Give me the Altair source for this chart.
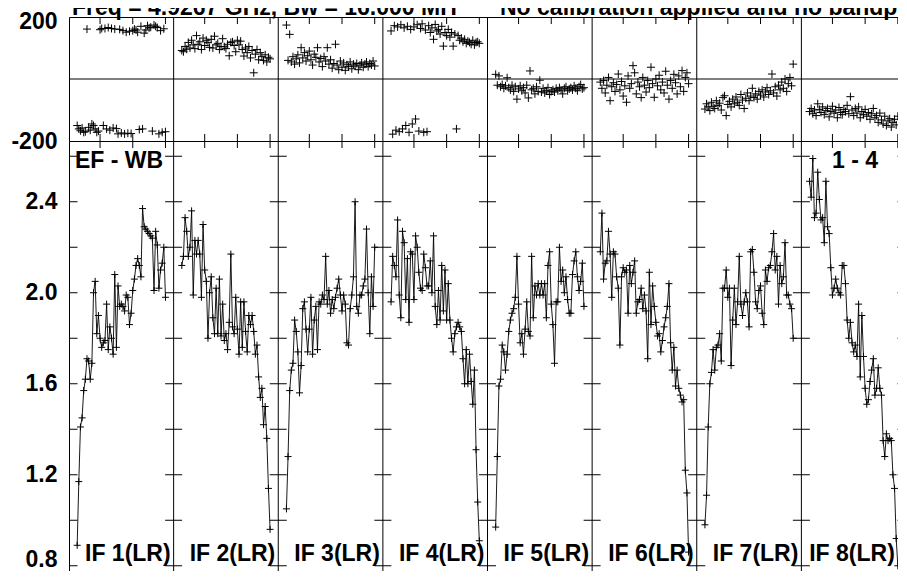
import altair as alt
import pandas as pd

# ---------------- data ----------------
NCHAN = 64                      # channels per IF
CHANNELS = list(range(6, 61))   # plotted channels in every IF
IF_LABELS = ["IF 1(LR)", "IF 2(LR)", "IF 3(LR)", "IF 4(LR)",
             "IF 5(LR)", "IF 6(LR)", "IF 7(LR)", "IF 8(LR)"]

AMP_IF1 = [0.89, 1.17, 1.41, 1.45, 1.57, 1.62, 1.71, 1.70, 1.62, 1.69,
           2.00, 2.05, 1.82, 1.90, 1.80, 1.76, 1.78, 1.79, 1.95, 1.75,
           1.85, 1.80, 1.73, 2.08, 1.76, 2.03, 1.94, 1.95, 1.94, 1.92,
           1.99, 1.98, 1.86, 1.91, 2.01, 2.06, 2.12, 2.15, 2.12, 2.07,
           2.37, 2.29, 2.28, 2.27, 2.26, 2.25, 2.24, 2.01, 2.27, 2.21,
           2.02, 2.10, 2.13, 2.20, 1.98]
AMP_IF2 = [2.12, 2.16, 2.33, 2.27, 2.16, 2.20, 2.36, 1.99, 2.23, 2.17,
           2.23, 2.17, 1.98, 2.30, 2.10, 2.05, 1.80, 2.00, 2.07, 1.89,
           1.82, 2.02, 1.82, 2.06, 1.81, 1.95, 1.79, 1.82, 1.75, 1.87,
           2.17, 1.85, 1.82, 1.98, 1.84, 1.73, 1.96, 1.76, 1.96, 1.83,
           1.74, 1.90, 1.86, 1.90, 1.83, 1.73, 1.77, 1.63, 1.54, 1.58,
           1.42, 1.50, 1.36, 1.14, 0.96]
AMP_IF3 = [1.05, 1.28, 1.57, 1.66, 1.69, 1.88, 1.83, 1.74, 1.56, 1.68,
           1.93, 1.96, 1.84, 1.74, 1.84, 1.98, 1.73, 1.88, 1.94, 1.75,
           1.96, 1.95, 1.99, 1.97, 2.16, 1.95, 2.01, 1.91, 1.97, 1.93,
           1.98, 2.02, 2.06, 1.99, 1.92, 1.99, 1.95, 1.78, 1.77, 1.93,
           1.99, 2.07, 2.40, 1.94, 1.91, 1.99, 1.99, 2.03, 2.06, 2.28,
           2.00, 1.82, 2.07, 1.94, 2.20]
AMP_IF4 = [1.96, 2.16, 2.12, 2.07, 2.32, 1.99, 1.89, 2.27, 2.22, 1.97,
           2.15, 1.87, 2.18, 2.17, 1.97, 2.25, 2.20, 2.09, 2.02, 2.01,
           2.17, 2.11, 2.03, 2.03, 2.14, 2.00, 2.25, 1.94, 1.86, 2.01,
           1.88, 2.12, 1.92, 2.10, 1.88, 2.04, 1.88, 1.80, 1.74, 1.82,
           1.85, 1.87, 1.85, 1.83, 1.71, 1.60, 1.75, 1.60, 1.73, 1.61,
           1.51, 1.66, 1.31, 1.08, 0.91]
AMP_IF5 = [0.97, 1.28, 1.59, 1.62, 1.77, 1.74, 1.66, 1.73, 1.83, 1.88,
           1.91, 1.93, 1.98, 2.16, 1.95, 1.78, 1.82, 1.73, 1.84, 1.96,
           1.83, 1.81, 2.16, 1.89, 2.03, 1.99, 2.04, 1.99, 2.04, 1.99,
           2.04, 1.89, 2.12, 2.18, 1.95, 1.86, 1.69, 1.96, 1.96, 2.20,
           2.05, 2.10, 2.00, 2.07, 1.97, 1.91, 1.91, 2.08, 2.14, 2.18,
           2.07, 2.01, 2.05, 2.13, 1.94]
AMP_IF6 = [2.18, 2.35, 2.06, 2.13, 2.14, 2.27, 2.17, 1.98, 2.18, 2.17,
           2.07, 2.02, 1.77, 2.07, 2.11, 2.09, 2.10, 1.91, 2.12, 2.04,
           2.09, 2.14, 1.91, 1.96, 1.97, 2.02, 1.93, 1.99, 1.92, 1.71,
           2.09, 1.86, 2.03, 1.94, 1.87, 1.81, 1.82, 1.74, 1.79, 1.85,
           1.89, 1.94, 2.04, 1.78, 1.66, 1.76, 1.59, 1.66, 1.58, 1.55,
           1.52, 1.53, 1.22, 1.12, 0.86]
AMP_IF7 = [0.98, 1.11, 1.41, 1.60, 1.65, 1.75, 1.66, 1.76, 1.77, 1.82,
           1.70, 2.02, 2.02, 2.10, 1.98, 2.02, 1.68, 1.88, 2.02, 1.86,
           1.96, 2.16, 1.95, 1.90, 1.96, 2.00, 1.96, 1.85, 2.18, 2.19,
           2.09, 1.96, 1.93, 2.01, 2.03, 1.91, 1.86, 2.10, 2.05, 2.11,
           2.12, 2.18, 2.26, 2.10, 2.16, 1.95, 2.12, 2.04, 2.07, 2.22,
           1.99, 1.99, 1.95, 1.93, 1.80]
AMP_IF8 = [2.49, 2.42, 2.59, 2.33, 2.35, 2.53, 2.41, 2.32, 2.33, 2.22,
           2.49, 2.29, 2.26, 2.11, 1.99, 2.02, 2.06, 2.02, 2.00, 1.99,
           2.12, 2.12, 2.04, 1.88, 1.80, 1.87, 1.78, 1.74, 1.77, 1.72,
           1.95, 1.63, 1.90, 1.72, 1.58, 1.51, 1.53, 1.61, 1.66, 1.71,
           1.55, 1.58, 1.67, 1.58, 1.55, 1.35, 1.28, 1.38, 1.35, 1.36,
           1.35, 1.20, 1.14, 0.92, 0.80]

PH_IF1 = [-150, -161, -167, -158, -172, -170, 161, -156, -165, -145,
          -150, -161, -172, -168, 159, 163, -150, 163, -161, 166,
          -165, 163, -158, 161, -160, -177, 160, -174, 156, -177,
          151, -175, 154, -176, 156, 161, 158, 151, -163, 170,
          -161, 148, 158, 172, 165, 167, -168, 174, 170, 166,
          -177, 156, -172, 162, -170]
PH_IF2 = [92, 88, 105, 96, 118, 100, 125, 110, 98, 140,
          112, 120, 95, 132, 108, 125, 118, 102, 128, 100,
          138, 110, 115, 95, 105, 130, 104, 98, 112, 75,
          118, 120, 108, 88, 125, 110, 122, 95, 74, 100,
          85, 105, 68, 92, 20, 80, 95, 62, 85, 72,
          60, 78, 55, 70, 65]
PH_IF3 = [174, 60, 144, 55, 72, 48, 65, 78, 52, 101,
          68, 85, 58, 75, 90, 62, 45, 80, 70, 101,
          55, 66, 40, 72, 58, 101, 48, 62, 35, 50,
          112, 45, 30, 58, 38, 52, 28, 46, 40, 55,
          33, 48, 42, 50, 30, 45, 52, 38, 48, 55,
          40, 50, 45, 58, 42]
PH_IF4 = [155, -178, 172, -165, 168, -170, 175, -161, 165, -150,
          170, -172, 160, -145, 168, -129, 175, -168, 163, 178,
          -172, 158, -170, 172, 150, 165, 128, 176, 155, 160,
          145, 170, 106, 150, 140, 160, 135, 150, 106, 145,
          -161, 140, 125, 132, 120, 128, 115, 122, 118, 112,
          125, 110, 118, 120, 115]
PH_IF5 = [15, -20, 10, -25, -18, -30, -22, 4, -28, -35,
          -20, -40, -25, -65, -32, -22, -38, -28, -45, -20,
          -61, 26, -35, -30, -48, -25, -40, -4, -42, -30,
          -45, -38, -28, -50, -40, -35, -42, -30, -38, -28,
          -35, -48, -30, -25, -38, -32, -28, -35, -22, -30,
          -38, -25, -18, -32, -28]
PH_IF6 = [-10, -30, -5, -45, -20, 5, -70, -25, -12, -40,
          -18, 16, -35, -8, -55, -22, -75, 10, -30, -15,
          43, 20, -48, -10, -25, -60, 5, -20, -42, -5,
          -28, 38, -15, -59, 0, -22, 12, -35, -10, -45,
          25, -20, -65, -5, -30, 15, -12, -48, 10, -25,
          27, -40, 5, 20, -15]
PH_IF7 = [-97, -80, -90, -102, -75, -88, -95, -70, -85, -78,
          -100, -60, -54, -118, -82, -72, -90, -65, -80, -58,
          -75, -85, -50, -68, -95, -62, -45, -70, -55, -30,
          -60, -48, -65, -40, -52, -35, -58, -42, -28, -50,
          -38, 16, -45, -25, -55, -20, -35, -10, -30, 0,
          -40, -15, 5, -22, 48]
PH_IF8 = [-105, -95, -112, -100, -118, -80, -98, -108, -90, -115,
          -102, -95, -122, -105, -88, -110, -100, -125, -92, -108,
          -115, -98, -105, -85, -112, -57, -100, -118, -95, -110,
          -90, -125, -105, -115, -98, -120, -108, -130, -112, -95,
          -125, -118, -140, -110, -132, -145, -120, -150, -135, -128,
          -155, -140, -130, -148, -120]

AMP_TICKS = [0.8, 1.0, 1.2, 1.4, 1.6, 1.8, 2.0, 2.2, 2.4, 2.6]
AMP_LABELS = [0.8, 1.2, 1.6, 2.0, 2.4]
PHASE_LABELS = [-200, 200]
XTICK_CHANNELS = [20, 40, 60]
TITLE_1 = "Freq = 4.9267 GHz, Bw = 16.000 MH"
TITLE_2 = "No calibration applied and no bandpa"
CORNER_LEFT = "EF - WB"
CORNER_RIGHT = "1 - 4"

AMPS = [AMP_IF1, AMP_IF2, AMP_IF3, AMP_IF4, AMP_IF5, AMP_IF6, AMP_IF7, AMP_IF8]
PHS = [PH_IF1, PH_IF2, PH_IF3, PH_IF4, PH_IF5, PH_IF6, PH_IF7, PH_IF8]
for a, p in zip(AMPS, PHS):
    assert len(a) == len(CHANNELS) and len(p) == len(CHANNELS)

# ---------------- tables ----------------
rows = []
for i, (a, p) in enumerate(zip(AMPS, PHS)):
    for ch, av, pv in zip(CHANNELS, a, p):
        rows.append({"ifnum": i + 1, "pos": i * NCHAN + ch, "amp": av, "phase": pv})
df = pd.DataFrame(rows)

NIF = len(IF_LABELS)
X_MIN, X_MAX = 1, NIF * NCHAN + 1
bounds_inner = pd.DataFrame({"b": [k * NCHAN + 1 for k in range(1, NIF)]})
bounds_all = [k * NCHAN + 1 for k in range(0, NIF + 1)]
xt_pos = [k * NCHAN + c for k in range(NIF) for c in XTICK_CHANNELS]

PH_DOM = [-200, 200]
AMP_DOM = [0.733, 2.667]

xt_phase = pd.DataFrame([{"x": x, "y": y} for x in xt_pos for y in PH_DOM])
xt_amp = pd.DataFrame([{"x": x, "y": y} for x in xt_pos for y in AMP_DOM])
yt_amp = pd.DataFrame([{"x": b, "y": v} for b in bounds_all for v in AMP_TICKS])
# IF labels sit at the right end of each IF panel (last one pulled in to stay on the page)
lab_df = pd.DataFrame({"x": [(k + 1) * NCHAN + 1 - (5 if k == NIF - 1 else 0) for k in range(NIF)],
                       "t": IF_LABELS})

FONT = "Liberation Sans"
FS = 23
W = 837
H_PH = 124
H_AMP = 440
PLUS = "M-1,0L1,0M0,-1L0,1"

xs = alt.Scale(domain=[X_MIN, X_MAX], nice=False, zero=False)
ph_s = alt.Scale(domain=PH_DOM, nice=False, zero=False)
amp_s = alt.Scale(domain=AMP_DOM, nice=False, zero=False)

ph_axis = alt.Axis(values=PHASE_LABELS, title=None, ticks=False, tickSize=0, domain=False,
                   grid=False, labelPadding=12, labelFlush=False, labelOverlap=False,
                   labelExpr="datum.value < 0 ? '-' + format(-datum.value, 'd') : format(datum.value, 'd')",
                   labelOffset={"expr": "datum.value > 0 ? 4 : 0"})
amp_axis = alt.Axis(values=AMP_LABELS, title=None, ticks=False, tickSize=0, domain=False,
                    grid=False, labelPadding=12, labelFlush=False, labelOverlap=False,
                    format=".1f",
                    labelOffset={"expr": "datum.value < 1 ? -6 : 0"})

# ---------------- phase panel ----------------
ph_points = alt.Chart(df).mark_point(shape=PLUS, size=64, filled=False, stroke="black",
                                     strokeWidth=1, opacity=1).encode(
    x=alt.X("pos:Q", scale=xs, axis=None),
    y=alt.Y("phase:Q", scale=ph_s, axis=ph_axis))
ph_zero = alt.Chart(pd.DataFrame({"z": [0]})).mark_rule(color="black", strokeWidth=1).encode(
    y=alt.Y("z:Q", scale=ph_s, axis=ph_axis))
ph_bounds = alt.Chart(bounds_inner).mark_rule(color="black", strokeWidth=1).encode(
    x=alt.X("b:Q", scale=xs, axis=None))
ph_xt = alt.Chart(xt_phase).mark_tick(orient="vertical", size=14, thickness=1,
                                      color="black", clip=True, opacity=1).encode(
    x=alt.X("x:Q", scale=xs, axis=None),
    y=alt.Y("y:Q", scale=ph_s, axis=ph_axis))
title_df = pd.DataFrame({"t": [TITLE_1, TITLE_2], "px": [3, 431]})
ph_title = alt.Chart(title_df).mark_text(align="left", baseline="alphabetic", font=FONT,
                                         fontSize=FS, fontWeight="bold", color="black").encode(
    x=alt.X("px:Q", scale=None, axis=None), y=alt.value(-2), text="t:N")

phase = alt.layer(ph_zero, ph_bounds, ph_xt, ph_points, ph_title).properties(
    width=W, height=H_PH)

# ---------------- amplitude panel ----------------
amp_bounds = alt.Chart(bounds_inner).mark_rule(color="black", strokeWidth=1).encode(
    x=alt.X("b:Q", scale=xs, axis=None))
amp_yt = alt.Chart(yt_amp).mark_tick(orient="horizontal", size=17, thickness=1,
                                     color="black", clip=True, opacity=1).encode(
    x=alt.X("x:Q", scale=xs, axis=None),
    y=alt.Y("y:Q", scale=amp_s, axis=amp_axis))
amp_xt = alt.Chart(xt_amp).mark_tick(orient="vertical", size=14, thickness=1,
                                     color="black", clip=True, opacity=1).encode(
    x=alt.X("x:Q", scale=xs, axis=None),
    y=alt.Y("y:Q", scale=amp_s, axis=amp_axis))
amp_line = alt.Chart(df).mark_line(color="black", strokeWidth=0.9).encode(
    x=alt.X("pos:Q", scale=xs, axis=None),
    y=alt.Y("amp:Q", scale=amp_s, axis=amp_axis),
    detail="ifnum:N")
amp_points = alt.Chart(df).mark_point(shape=PLUS, size=49, filled=False, stroke="black",
                                      strokeWidth=1, opacity=1).encode(
    x=alt.X("pos:Q", scale=xs, axis=None),
    y=alt.Y("amp:Q", scale=amp_s, axis=amp_axis))
amp_labels = alt.Chart(lab_df).mark_text(align="right", baseline="alphabetic", dx=-3,
                                         font=FONT, fontSize=FS, fontWeight="bold",
                                         color="black").encode(
    x=alt.X("x:Q", scale=xs, axis=None), y=alt.value(420), text="t:N")
corner_df = pd.DataFrame({"t": [CORNER_LEFT], "px": [6]})
corner_l = alt.Chart(corner_df).mark_text(align="left", baseline="alphabetic", font=FONT,
                                          fontSize=FS, fontWeight="bold", color="black").encode(
    x=alt.X("px:Q", scale=None, axis=None), y=alt.value(27), text="t:N")
corner_df2 = pd.DataFrame({"t": [CORNER_RIGHT], "px": [809]})
corner_r = alt.Chart(corner_df2).mark_text(align="right", baseline="alphabetic", font=FONT,
                                           fontSize=FS, fontWeight="bold", color="black").encode(
    x=alt.X("px:Q", scale=None, axis=None), y=alt.value(27), text="t:N")

amp = alt.layer(amp_bounds, amp_yt, amp_xt, amp_line, amp_points, amp_labels,
                corner_l, corner_r).properties(width=W, height=H_AMP)

chart = alt.vconcat(phase, amp, spacing=0, bounds="flush").properties(
    padding={"left": 2, "top": -12, "right": -13, "bottom": -11},
    background="white"
).configure_view(stroke="black", strokeWidth=1).configure_axis(
    labelFont=FONT, labelFontSize=FS, labelFontWeight="bold", labelColor="black"
)

chart.save("out.html", embed_options={"renderer": "svg", "actions": False})
